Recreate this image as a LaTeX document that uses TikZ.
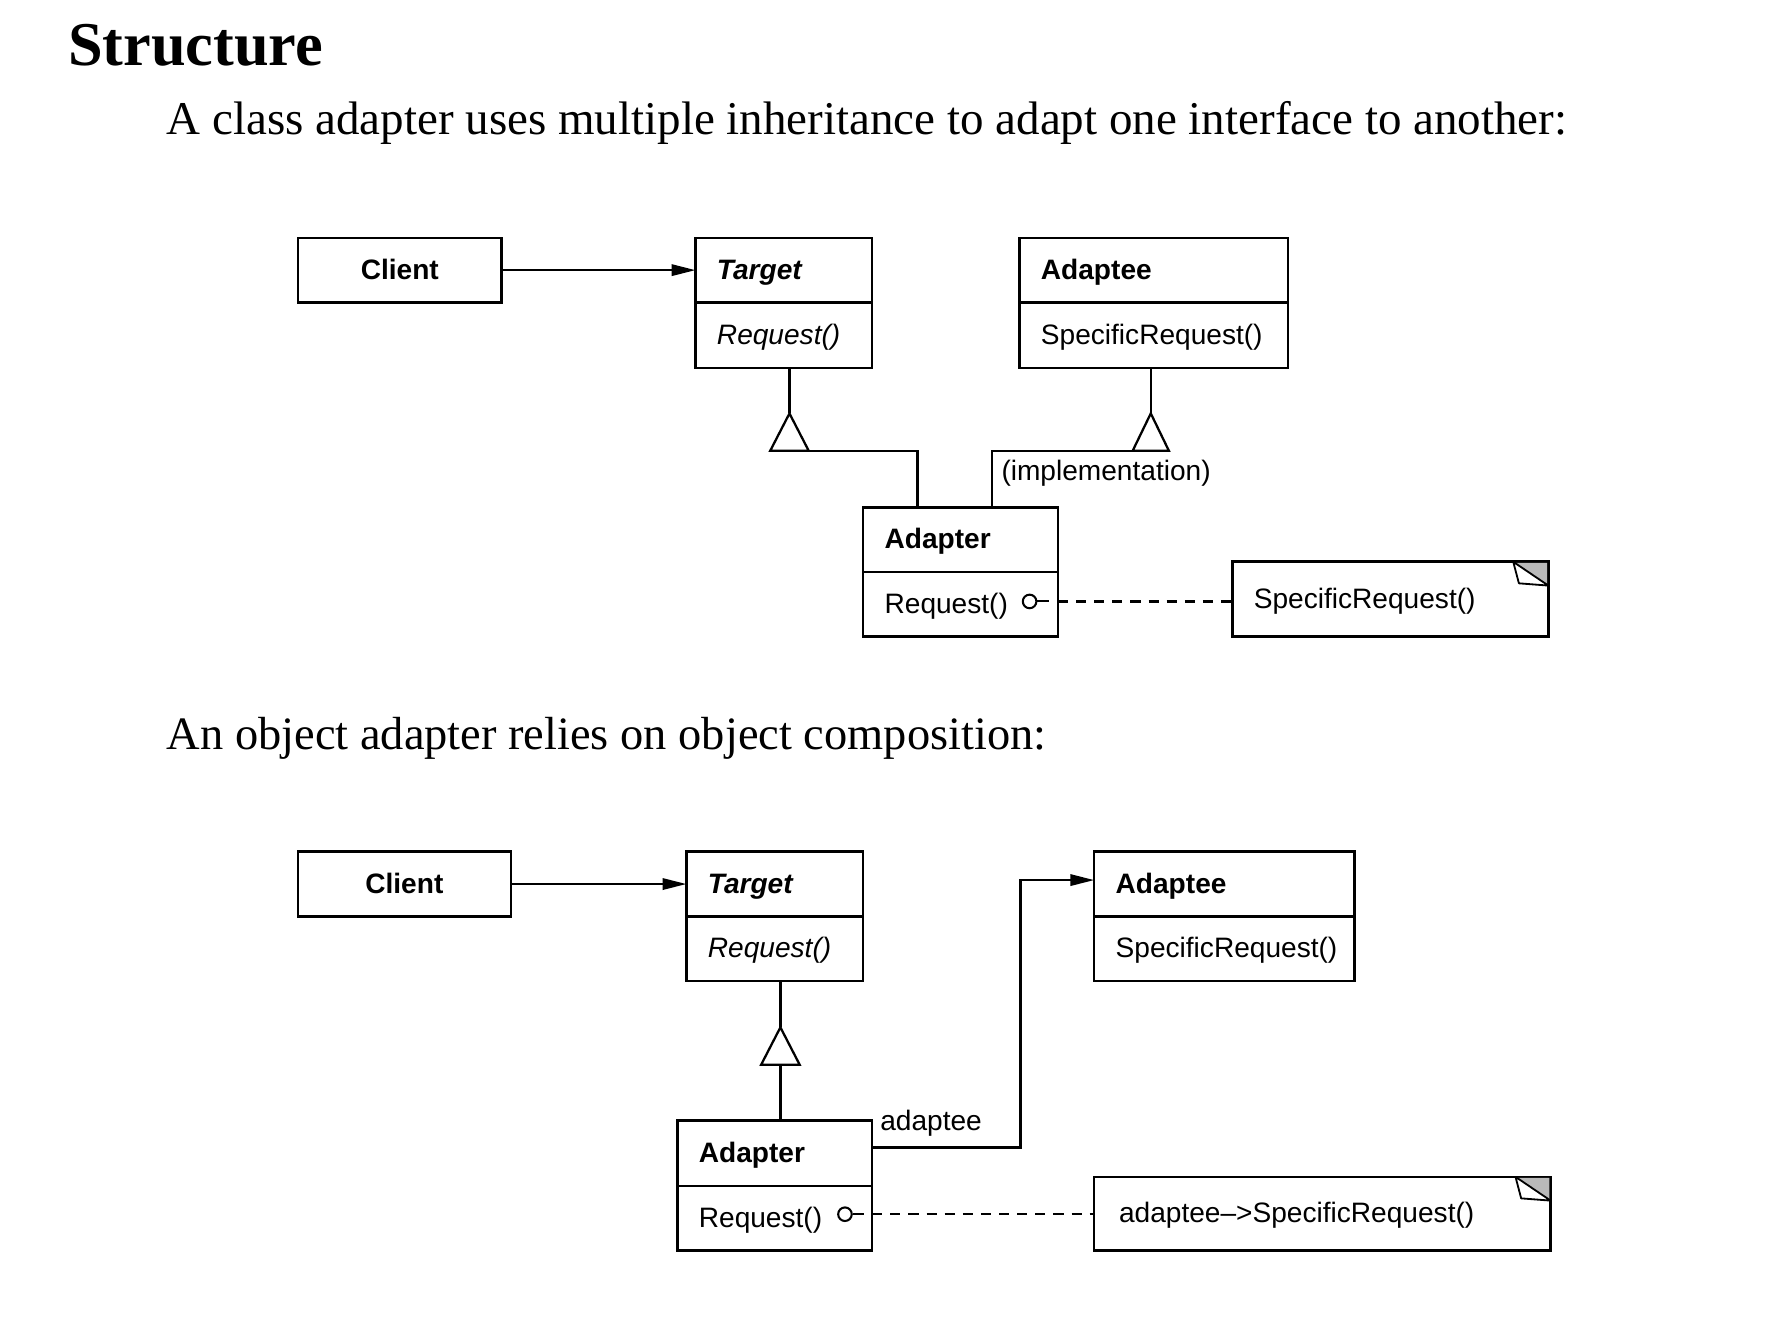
\documentclass[tikz,border=0pt]{standalone}
\usepackage{fontspec}
\setmainfont{Liberation Serif}
\newfontfamily\uisans{Liberation Sans}
\usetikzlibrary{arrows.meta,calc}
\newcommand\cfont{\uisans\fontsize{24.8}{29}\selectfont}
\begin{document}
\begin{tikzpicture}[x=1pt,y=-1pt,
  cls/.style={draw, line width=2.3pt, anchor=north west, inner xsep=19pt, inner ysep=0pt,
    outer sep=0pt, font=\cfont, text height=16pt, text depth=0pt, align=left},
  conn/.style={line width=2pt},
  inh/.style={draw, line width=2pt, fill=white, line join=miter},
  arr/.style={conn, -{Triangle[length=21pt,width=10pt]}},
  dashline/.style={line width=2pt, dash pattern=on 9pt off 7pt},
  lollipop/.style={circle, draw, line width=1.8pt, minimum size=12pt, inner sep=0pt},
  lbl/.style={font=\cfont, inner sep=0pt, anchor=west},
  serif/.style={inner sep=0pt, anchor=base west}
]
\fill[white] (0,0) rectangle (1568,1169);
\useasboundingbox (0,0) rectangle (1568,1169);

% ---- headings
\node[serif, font=\fontsize{55}{60}\selectfont\bfseries] (title) at (60,58) {Structure};
\node[serif, font=\fontsize{41.5}{48}\selectfont] (sub1) at (147,119)
  {A class adapter uses multiple inheritance to adapt one interface to another:};
\node[serif, font=\fontsize{41}{48}\selectfont] (sub2) at (147,662)
  {An object adapter relies on object composition:};

% ================= class adapter =================
\node[cls, text width=142pt, align=center, minimum height=57pt] (cl1) at (263,210) {\bfseries Client};
\node[cls, text width=118pt, minimum height=57pt] (tg1n) at (614,210) {\bfseries\itshape Target};
\node[cls, text width=118pt, minimum height=58pt] (tg1o) at (tg1n.south west) {\itshape Request()};
\node[cls, text width=199pt, minimum height=57pt] (ae1n) at (900,210) {\bfseries Adaptee};
\node[cls, text width=199pt, minimum height=58pt] (ae1o) at (ae1n.south west) {SpecificRequest()};
\node[cls, text width=134pt, minimum height=57pt] (ad1n) at (762,448) {\bfseries Adapter};
\node[cls, text width=134pt, minimum height=57pt] (ad1o) at (ad1n.south west) {Request()};
\node[cls, text width=241pt, minimum height=66pt] (nt1) at (1088,496) {SpecificRequest()};

\draw[arr] (cl1) -- (tg1n);

\coordinate (apA) at (697,365);
\coordinate (apB) at (1016,365);
\coordinate (j1) at ($(ad1n.north west)+(48,0)$);
\coordinate (j2) at ($(ad1n.north west)+(114,0)$);
\draw[conn] (apA) -- (apA |- tg1o.south);
\draw[conn] (apB) -- (apB |- ae1o.south);
\draw[conn] ($(apA)+(17,33)$) -| (j1);
\draw[conn] ($(apB)+(-16,33)$) -| (j2);
\draw[inh] (apA) -- ++(-17,33) -- ++(34,0) -- cycle;
\draw[inh] (apB) -- ++(-16,33) -- ++(32,0) -- cycle;
\node[lbl] (impl) at (884,418) {(implementation)};

\node[lollipop] (o1) at (909,531) {};
\draw[conn, line width=1.8pt] (o1.east) -- ++(10,0);
\draw[dashline] (o1 -| ad1o.east) -- (o1 -| nt1.west);

\fill[gray!55] ($(nt1.north east)+(-31,1)$) -- ($(nt1.north east)+(-1,1)$) -- ($(nt1.north east)+(-1,21)$) -- cycle;
\draw[line width=1.6pt, fill=white, line join=round] ($(nt1.north east)+(-31,0)$) -- ($(nt1.north east)+(-26,19)$) -- ($(nt1.north east)+(0,21)$) -- cycle;

% ================= object adapter =================
\node[cls, text width=150pt, align=center, minimum height=57pt] (cl2) at (263,752) {\bfseries Client};
\node[cls, text width=118pt, minimum height=57pt] (tg2n) at (606,752) {\bfseries\itshape Target};
\node[cls, text width=118pt, minimum height=57pt] (tg2o) at (tg2n.south west) {\itshape Request()};
\node[cls, text width=192pt, minimum height=57pt] (ae2n) at (966,752) {\bfseries Adaptee};
\node[cls, text width=192pt, minimum height=57pt] (ae2o) at (ae2n.south west) {SpecificRequest()};
\node[cls, text width=134pt, minimum height=58pt] (ad2n) at (598,989) {\bfseries Adapter};
\node[cls, text width=134pt, minimum height=57pt] (ad2o) at (ad2n.south west) {Request()};
\node[cls, inner xsep=22pt, text width=359pt, minimum height=65pt] (nt2) at (966,1039) {adaptee–>SpecificRequest()};

\draw[arr] (cl2) -- (tg2n);

\coordinate (apC) at (689,907);
\draw[conn] (apC) -- (apC |- tg2o.south);
\draw[conn] ($(apC)+(0,33)$) -- (apC |- ad2n.north);
\draw[inh] (apC) -- ++(-17,33) -- ++(34,0) -- cycle;

\coordinate (s2) at ($(ad2n.east)+(0,-5)$);
\coordinate (bend) at (901,777);
\draw[arr] (s2) -| (bend) -- (bend -| ae2n.west);
\node[lbl] (adl) at (777,992) {adaptee};

\node[lollipop] (o2) at (746,1072) {};
\draw[conn, line width=1.8pt] (o2.east) -- ++(10,0);
\draw[dashline] (o2 -| ad2o.east) -- (o2 -| nt2.west);

\fill[gray!55] ($(nt2.north east)+(-31,1)$) -- ($(nt2.north east)+(-1,1)$) -- ($(nt2.north east)+(-1,21)$) -- cycle;
\draw[line width=1.6pt, fill=white, line join=round] ($(nt2.north east)+(-31,0)$) -- ($(nt2.north east)+(-26,19)$) -- ($(nt2.north east)+(0,21)$) -- cycle;
\end{tikzpicture}
\end{document}
